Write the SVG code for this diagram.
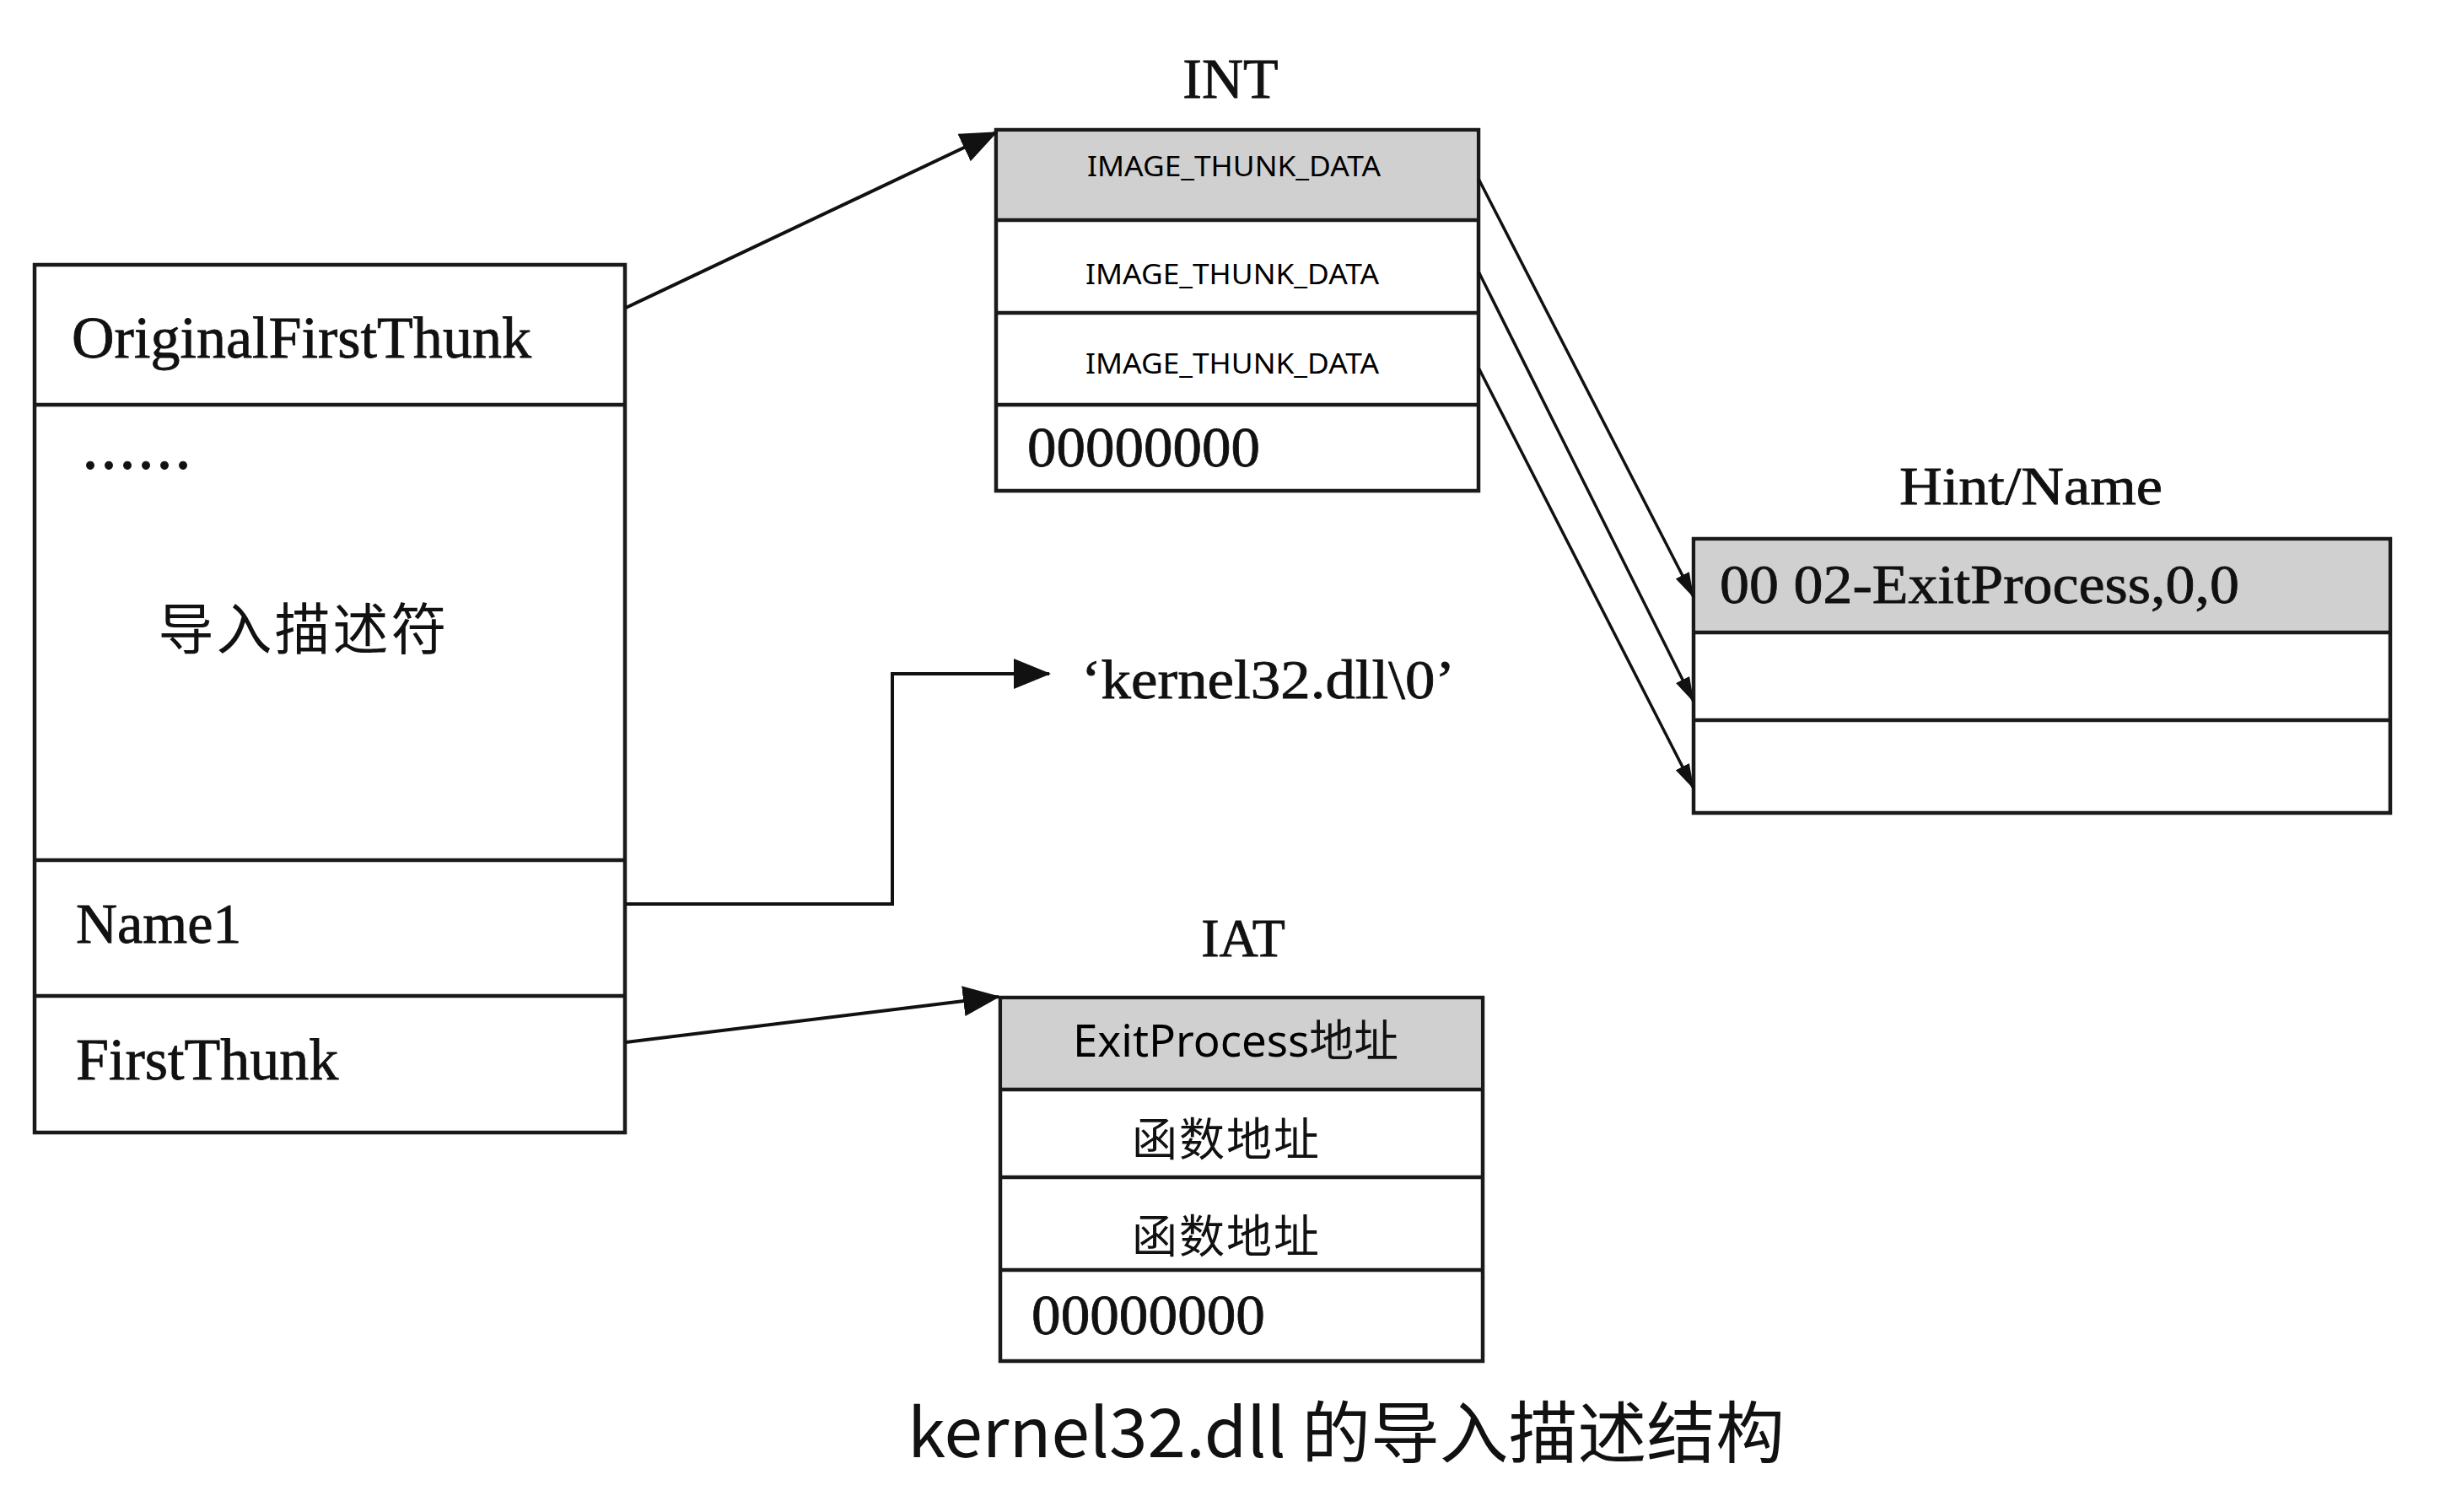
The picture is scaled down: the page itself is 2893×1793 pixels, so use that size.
<svg xmlns="http://www.w3.org/2000/svg" width="2893" height="1793" viewBox="0 0 2893 1793">
<style>
.box{fill:#fff;stroke:#1a1a1a;stroke-width:4.5}
.gray{fill:#d0d0d0;stroke:none}
.div{stroke:#1a1a1a;stroke-width:4.5;fill:none}
.serif{font-family:"Liberation Serif","Times New Roman",serif;fill:#111;stroke:#111;stroke-width:0.8}
.sans{font-family:"Noto Sans","Liberation Sans",sans-serif;fill:#000}
.cjk{font-family:"Noto Sans CJK SC",sans-serif;fill:#111}
.conn{stroke:#111;stroke-width:4;fill:none}
.thin{stroke:#111;stroke-width:3.5;fill:none}
</style>
<defs>
<marker id="big" markerUnits="userSpaceOnUse" markerWidth="44" markerHeight="36" refX="42" refY="18" orient="auto">
<path d="M0,0 L44,18 L0,36 Z" fill="#111"/>
</marker>
<marker id="small" markerUnits="userSpaceOnUse" markerWidth="30" markerHeight="18" refX="29" refY="9" orient="auto">
<path d="M0,0 L30,9 L0,18 Z" fill="#111"/>
</marker>
</defs>
<rect width="2893" height="1793" fill="#fff"/>

<g id="descriptor">
<rect class="box" x="41" y="314" width="700" height="1029"/>
<line class="div" x1="41" y1="480" x2="741" y2="480"/>
<line class="div" x1="41" y1="1020" x2="741" y2="1020"/>
<line class="div" x1="41" y1="1181" x2="741" y2="1181"/>
<text class="serif" x="85" y="424" font-size="70" textLength="545" lengthAdjust="spacingAndGlyphs">OriginalFirstThunk</text>
<text class="serif" x="100" y="556" font-size="56" font-weight="bold" letter-spacing="8">......</text>
<text class="cjk" x="360" y="770" font-size="66" text-anchor="middle" letter-spacing="3">导入描述符</text>
<text class="serif" x="90" y="1118" font-size="68">Name1</text>
<text class="serif" x="90" y="1280" font-size="70">FirstThunk</text>
</g>

<g id="int">
<text class="serif" x="1459" y="116" font-size="68" text-anchor="middle">INT</text>
<rect class="box" x="1181" y="154" width="572" height="428"/>
<rect class="gray" x="1184" y="157" width="566" height="103"/>
<line class="div" x1="1181" y1="261" x2="1753" y2="261"/>
<line class="div" x1="1181" y1="371" x2="1753" y2="371"/>
<line class="div" x1="1181" y1="480" x2="1753" y2="480"/>
<text class="sans" x="1463" y="209" font-size="33" text-anchor="middle" textLength="348" lengthAdjust="spacingAndGlyphs">IMAGE_THUNK_DATA</text>
<text class="sans" x="1461" y="337" font-size="33" text-anchor="middle" textLength="348" lengthAdjust="spacingAndGlyphs">IMAGE_THUNK_DATA</text>
<text class="sans" x="1461" y="443" font-size="33" text-anchor="middle" textLength="348" lengthAdjust="spacingAndGlyphs">IMAGE_THUNK_DATA</text>
<text class="serif" x="1218" y="553" font-size="68" textLength="276" lengthAdjust="spacingAndGlyphs">00000000</text>
</g>

<g id="hintname">
<text class="serif" x="2408" y="598" font-size="64" text-anchor="middle" textLength="312" lengthAdjust="spacingAndGlyphs">Hint/Name</text>
<rect class="box" x="2008" y="639" width="826" height="325"/>
<rect class="gray" x="2011" y="642" width="820" height="107"/>
<line class="div" x1="2008" y1="750" x2="2834" y2="750"/>
<line class="div" x1="2008" y1="854" x2="2834" y2="854"/>
<text class="serif" x="2039" y="715" font-size="66" textLength="616" lengthAdjust="spacingAndGlyphs" stroke-width="1.5">00 02-ExitProcess,0,0</text>
</g>

<g id="kernel32">
<text class="serif" x="1282" y="828" font-size="66" textLength="443" lengthAdjust="spacingAndGlyphs">‘kernel32.dll\0’</text>
</g>

<g id="iat">
<text class="serif" x="1474" y="1134" font-size="64" text-anchor="middle">IAT</text>
<rect class="box" x="1186" y="1183" width="572" height="431"/>
<rect class="gray" x="1189" y="1186" width="566" height="105"/>
<line class="div" x1="1186" y1="1292" x2="1758" y2="1292"/>
<line class="div" x1="1186" y1="1396" x2="1758" y2="1396"/>
<line class="div" x1="1186" y1="1506" x2="1758" y2="1506"/>
<text class="sans" x="1465" y="1253" font-size="52" text-anchor="middle" textLength="386" lengthAdjust="spacingAndGlyphs">ExitProcess<tspan class="cjk">地址</tspan></text>
<text class="cjk" x="1454" y="1371" font-size="54" text-anchor="middle" letter-spacing="2">函数地址</text>
<text class="cjk" x="1454" y="1486" font-size="54" text-anchor="middle" letter-spacing="2">函数地址</text>
<text class="serif" x="1223" y="1582" font-size="68" textLength="277" lengthAdjust="spacingAndGlyphs">00000000</text>
</g>

<g id="caption">
<text class="cjk" x="1076" y="1728" font-size="80" textLength="1040" lengthAdjust="spacingAndGlyphs">kernel32.dll 的导入描述结构</text>
</g>

<g id="connectors">
<path class="conn" d="M742,365 L1181,157" marker-end="url(#big)"/>
<path class="conn" d="M742,1072 L1058,1072 L1058,799 L1244,799" marker-end="url(#big)"/>
<path class="conn" d="M742,1236 L1184,1182" marker-end="url(#big)"/>
<path class="thin" d="M1753,212 L2008,708" marker-end="url(#small)"/>
<path class="thin" d="M1753,322 L2008,832" marker-end="url(#small)"/>
<path class="thin" d="M1753,436 L2008,935" marker-end="url(#small)"/>
</g>
</svg>
